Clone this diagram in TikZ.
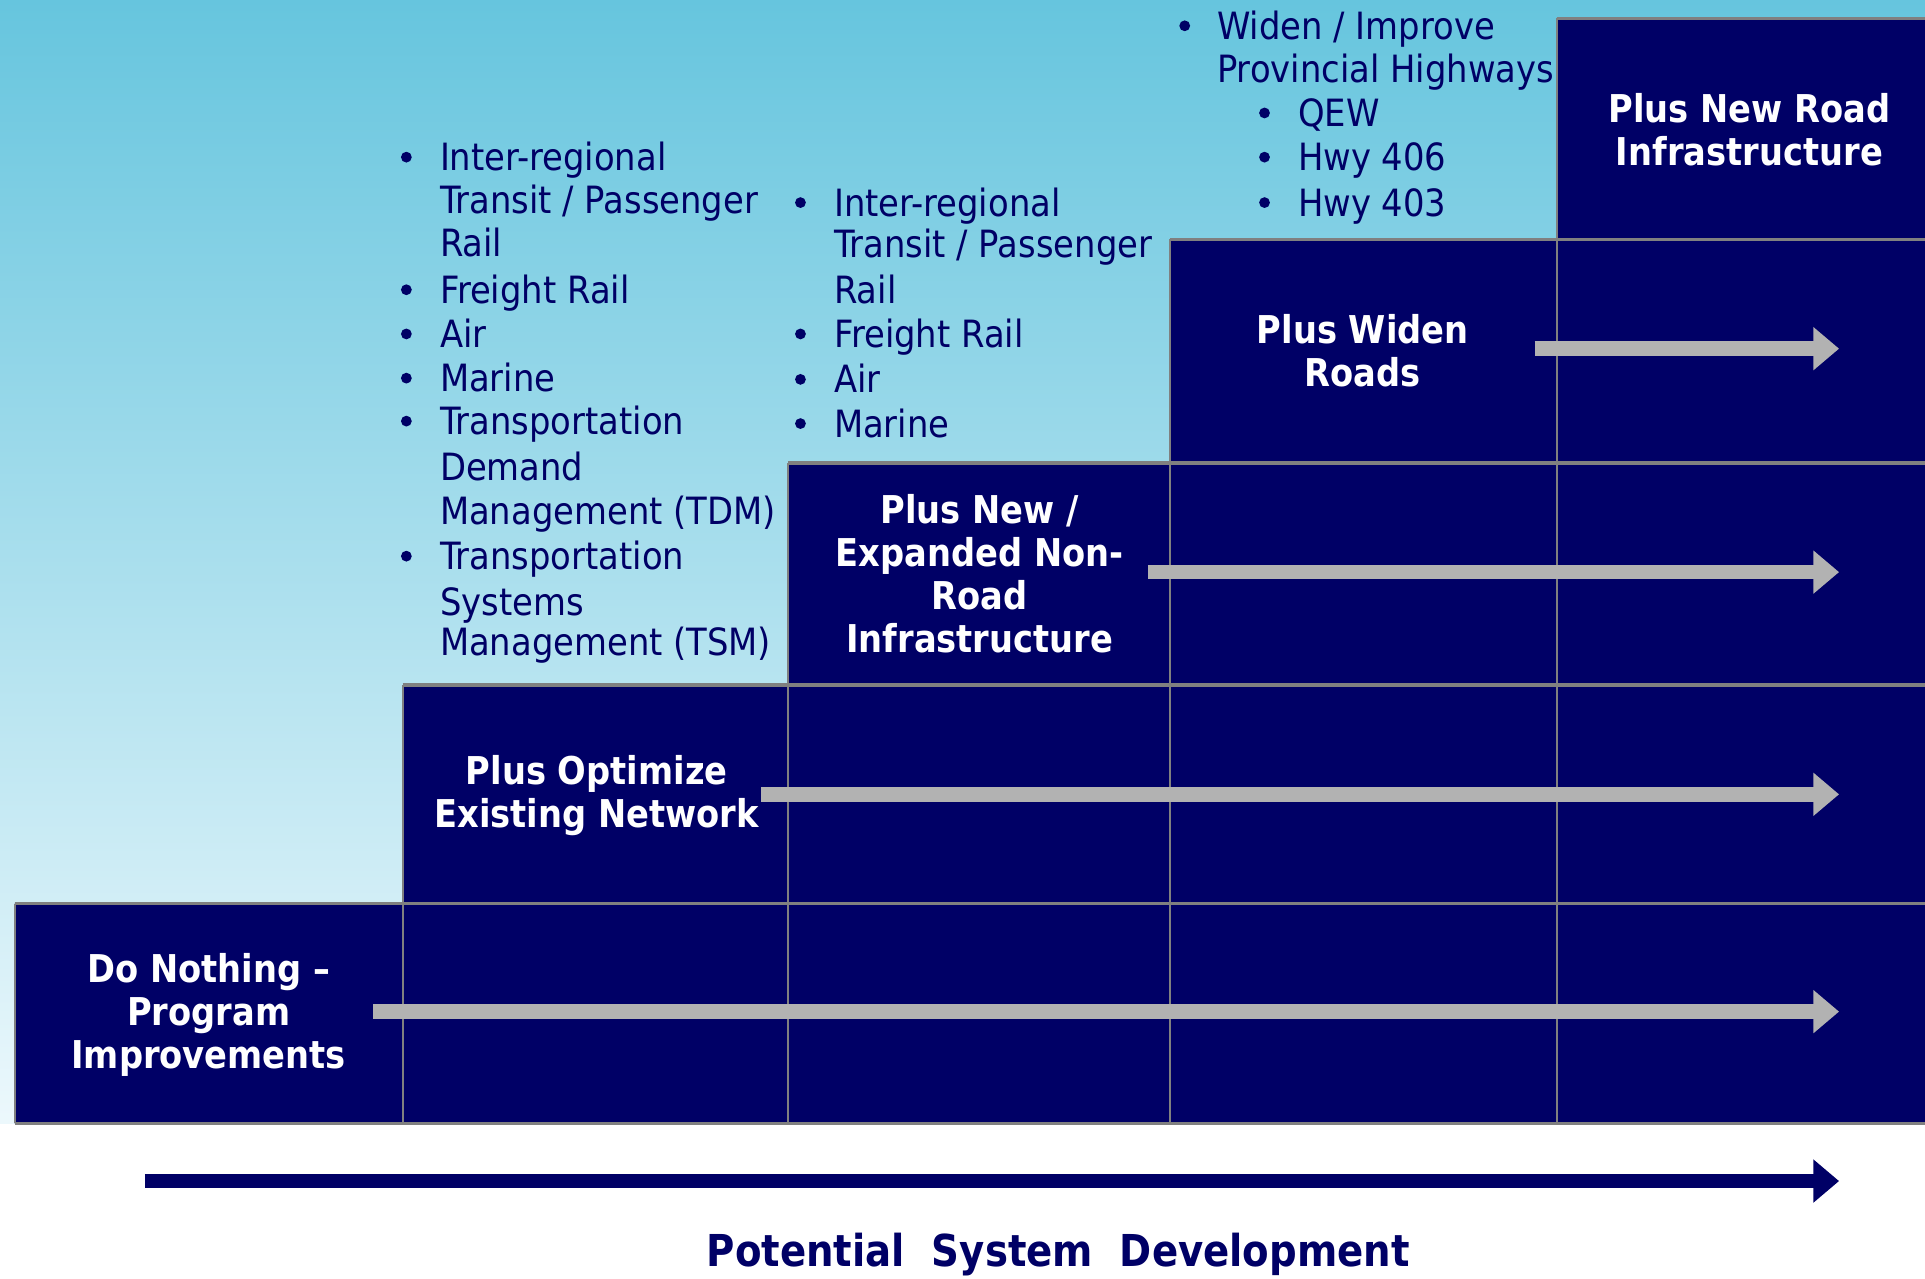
\documentclass[tikz,border=0pt]{standalone}
\usepackage{fontspec}
\setmainfont{DejaVu Sans}[FakeStretch=0.9]
\newfontfamily\boldfam{DejaVu Sans}[FakeStretch=0.88]
\usetikzlibrary{arrows.meta}
\definecolor{navy}{RGB}{0,0,102}
\definecolor{gridgray}{RGB}{128,128,128}
\definecolor{arrgray}{RGB}{178,178,178}
\definecolor{skytop}{RGB}{102,197,222}
\definecolor{skybot}{RGB}{236,248,252}
\tikzset{
  hline/.style={draw=gridgray, line width=1.4pt},
  vline/.style={draw=gridgray, line width=0.9pt},
  boxlabel/.style={text=white, align=center, inner sep=0pt,
    font=\boldfam\bfseries\fontsize{15.6}{17.5}\selectfont},
  btxt/.style={text=navy, anchor=base west, inner sep=0pt,
    font=\fontsize{15.3}{18}\selectfont},
  grayarrow/.style={draw=arrgray, line width=6pt,
    -{Triangle[length=10.5pt, width=17pt]}},
  navyarrow/.style={draw=navy, line width=6pt,
    -{Triangle[length=10.5pt, width=17pt]}},
  bul/.style={fill=navy},
}
\begin{document}
\begin{tikzpicture}[x=0.5pt,y=-0.5pt]
\useasboundingbox (0,0) rectangle (1568,1041);
\fill[white] (0,0) rectangle (1568,1041);
\shade[top color=skytop, bottom color=skybot] (0,0) rectangle (1568,915);

% staircase
\fill[navy] (12,915) -- (12,736) -- (328,736) -- (328,558) -- (642,558) -- (642,377)
  -- (953,377) -- (953,195) -- (1268,195) -- (1268,15) -- (1568,15) -- (1568,915) -- cycle;

% grid lines
\draw[vline] (12,736) -- (12,915);
\draw[vline] (328,558) -- (328,915);
\draw[vline] (642,377) -- (642,915);
\draw[vline] (953,195) -- (953,915);
\draw[vline] (1268,15) -- (1268,915);
\draw[hline] (12,915) -- (1568,915);
\draw[hline] (12,736) -- (1568,736);
\draw[hline] (328,558) -- (1568,558);
\draw[hline] (642,377) -- (1568,377);
\draw[hline] (953,195) -- (1568,195);
\draw[hline] (1268,15) -- (1568,15);

% gray arrows
\coordinate (a1s) at (304,824); \coordinate (a1e) at (1498,824);
\coordinate (a2s) at (620,647); \coordinate (a2e) at (1498,647);
\coordinate (a3s) at (935,466); \coordinate (a3e) at (1498,466);
\coordinate (a4s) at (1250,284); \coordinate (a4e) at (1498,284);
\draw[grayarrow] (a1s) -- (a1e);
\draw[grayarrow] (a2s) -- (a2e);
\draw[grayarrow] (a3s) -- (a3e);
\draw[grayarrow] (a4s) -- (a4e);

% box labels
\node[boxlabel] (donothing) at (170,827) {Do Nothing –\\Program\\Improvements};
\node[boxlabel] (optimize) at (486,648) {Plus Optimize\\Existing Network};
\node[boxlabel] (nonroad) at (798,467) {Plus New /\\Expanded Non-\\Road\\Infrastructure};
\node[boxlabel] (widen) at (1110,286) {Plus Widen\\Roads};
\node[boxlabel] (newroad) at (1425,106) {Plus New Road\\Infrastructure};

% list 1
\fill[bul] (331,128) circle[radius=2.2pt];
\fill[bul] (331,236) circle[radius=2.2pt];
\fill[bul] (331,272) circle[radius=2.2pt];
\fill[bul] (331,308) circle[radius=2.2pt];
\fill[bul] (331,343) circle[radius=2.2pt];
\fill[bul] (331,453) circle[radius=2.2pt];
\node[btxt] (l1a) at (358,139) {Inter-regional};
\node[btxt] (l1b) at (358,174) {Transit / Passenger};
\node[btxt] (l1c) at (358,209) {Rail};
\node[btxt] (l1d) at (358,247) {Freight Rail};
\node[btxt] (l1e) at (358,283) {Air};
\node[btxt] (l1f) at (358,319) {Marine};
\node[btxt] (l1g) at (358,354) {Transportation};
\node[btxt] (l1h) at (358,391) {Demand};
\node[btxt] (l1i) at (358,427) {Management (TDM)};
\node[btxt] (l1j) at (358,464) {Transportation};
\node[btxt] (l1k) at (358,501) {Systems};
\node[btxt] (l1l) at (358,534) {Management (TSM)};

% list 2
\fill[bul] (652,165) circle[radius=2.2pt];
\fill[bul] (652,272) circle[radius=2.2pt];
\fill[bul] (652,309) circle[radius=2.2pt];
\fill[bul] (652,345) circle[radius=2.2pt];
\node[btxt] (l2a) at (679,176) {Inter-regional};
\node[btxt] (l2b) at (679,210) {Transit / Passenger};
\node[btxt] (l2c) at (679,247) {Rail};
\node[btxt] (l2d) at (679,283) {Freight Rail};
\node[btxt] (l2e) at (679,320) {Air};
\node[btxt] (l2f) at (679,356) {Marine};

% list 3
\fill[bul] (965,21) circle[radius=2.2pt];
\fill[bul] (1030,92) circle[radius=2.2pt];
\fill[bul] (1030,128) circle[radius=2.2pt];
\fill[bul] (1030,165) circle[radius=2.2pt];
\node[btxt] (l3a) at (991,32) {Widen / Improve};
\node[btxt] (l3b) at (991,67) {Provincial Highways};
\node[btxt] (l3c) at (1057,103) {QEW};
\node[btxt] (l3d) at (1057,139) {Hwy 406};
\node[btxt] (l3e) at (1057,176) {Hwy 403};

% bottom axis
\coordinate (axs) at (118,962); \coordinate (axe) at (1498,962);
\draw[navyarrow] (axs) -- (axe);
\node[text=navy, inner sep=0pt, font=\boldfam\bfseries\fontsize{17.9}{22}\selectfont]
  (axislabel) at (862,1022) {Potential\ \ System\ \ Development};
\end{tikzpicture}
\end{document}
